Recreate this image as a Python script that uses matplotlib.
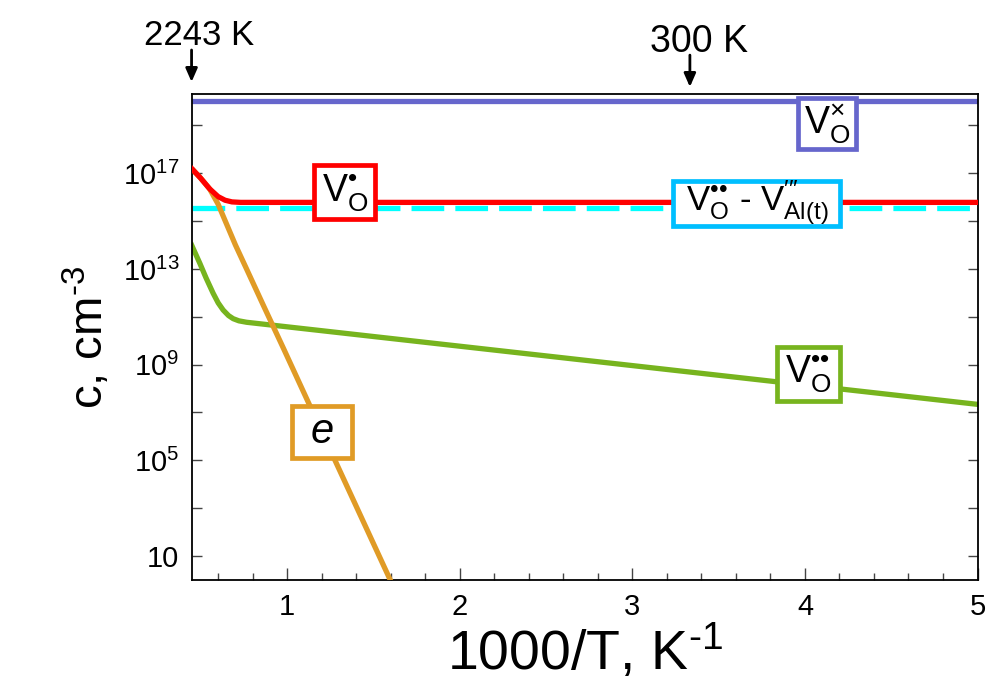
import numpy as np
import matplotlib
matplotlib.use("Agg")
import matplotlib.pyplot as plt
import matplotlib.transforms as mtransforms
from matplotlib.patches import Rectangle
from matplotlib.ticker import FixedLocator, MultipleLocator, NullFormatter

plt.rcParams['font.family'] = ['Liberation Sans', 'DejaVu Sans']
plt.rcParams['mathtext.fontset'] = 'custom'
plt.rcParams['mathtext.rm'] = 'Liberation Sans'
plt.rcParams['mathtext.it'] = 'Liberation Sans:italic'
plt.rcParams['mathtext.bf'] = 'Liberation Sans:bold'

# ---- data (x = 1000/T, values as log10 of concentration) ----
x_vox = [0.446, 5.0]
log_vox = [20.03, 20.03]

x_vo1 = [0.446, 0.50, 0.55, 0.60, 0.64, 0.68, 0.73, 0.80, 5.0]
log_vo1 = [17.2, 16.78, 16.35, 16.02, 15.87, 15.80, 15.78, 15.78, 15.78]

x_pair = [0.446, 5.0]
log_pair = [15.54, 15.54]

x_vo2 = [0.446, 0.494, 0.53, 0.571, 0.60, 0.629, 0.66, 0.687, 0.72, 0.765,
         1.0, 2.0, 3.0, 4.0, 5.0]
log_vo2 = [14.0, 13.23, 12.62, 11.98, 11.58, 11.28, 11.05, 10.92, 10.83, 10.77,
           10.58, 9.77, 8.96, 8.15, 7.34]

x_e = [0.446, 0.50, 0.55, 0.60, 0.65, 0.70, 0.765, 0.861, 0.977, 1.286, 1.61]
log_e = [17.2, 16.78, 16.35, 15.7, 14.85, 14.0, 12.99, 11.49, 9.7, 4.86, -0.2]

yticks_major = [1e1, 1e5, 1e9, 1e13, 1e17]
yticks_labels = ['10', r'$10^{5}$', r'$10^{9}$', r'$10^{13}$', r'$10^{17}$']
yticks_minor = [1e3, 1e7, 1e11, 1e15, 1e19]
xticks_major = [1, 2, 3, 4, 5]

T_high = 2243
T_low = 300

# ---- colors ----
c_blue = '#6666CC'
c_red = '#FF0000'
c_cyan = '#00FFFF'
c_cyanbox = '#00BFFF'
c_green = '#77B41E'
c_orange = '#E09B26'

fig = plt.figure(figsize=(9.9, 6.83), dpi=100)
ax = fig.add_axes([0.1935, 0.1508, 0.9874 - 0.1935, 0.8624 - 0.1508])

lw = 3.8
ax.plot(x_vox, 10.0 ** np.array(log_vox), color=c_blue, lw=lw, zorder=2)
ax.plot(x_pair, 10.0 ** np.array(log_pair), color=c_cyan, lw=lw,
        dashes=(6.2, 2.1), zorder=2.2)
ax.plot(x_vo2, 10.0 ** np.array(log_vo2), color=c_green, lw=lw, zorder=2.1)
ax.plot(x_e, 10.0 ** np.array(log_e), color=c_orange, lw=lw, zorder=2.8,
        solid_capstyle='butt')
ax.plot(x_vo1, 10.0 ** np.array(log_vo1), color=c_red, lw=lw, zorder=3)

ax.set_yscale('log')
ax.set_xlim(1000.0 / T_high, 5.0)
ax.set_ylim(1.0, 10 ** 20.31)

ax.yaxis.set_major_locator(FixedLocator(yticks_major))
ax.yaxis.set_minor_locator(FixedLocator(yticks_minor))
ax.yaxis.set_minor_formatter(NullFormatter())
ax.set_yticklabels(yticks_labels)
ax.xaxis.set_major_locator(FixedLocator(xticks_major))
ax.xaxis.set_minor_locator(MultipleLocator(0.2))
ax.xaxis.set_minor_formatter(NullFormatter())
ax.set_xticklabels([str(v) for v in xticks_major])

ax.tick_params(axis='both', which='both', direction='in', color='#444444',
               width=1.0)
ax.tick_params(axis='y', which='both', right=True, left=True, length=7,
               labelsize=21, pad=9)
ax.tick_params(axis='x', which='major', length=9, labelsize=21, pad=9,
               top=False)
ax.tick_params(axis='x', which='minor', length=5, top=False)
for s in ax.spines.values():
    s.set_linewidth(1.3)

ax.set_xlabel('1000/T, K$^{\\mathregular{\u2010}\\mathregular{1}}$', fontsize=40)
ax.xaxis.set_label_coords(0.5, -0.089)
ax.set_ylabel('c, cm$^{\\mathregular{\u2010}\\mathregular{3}}$', fontsize=34)
ax.yaxis.set_label_coords(-0.099, 0.5)


def label_box(xc, yc, w_px, h_px, text, color, fs, style='normal'):
    trans = fig.dpi_scale_trans + mtransforms.ScaledTranslation(xc, yc, ax.transData)
    w, h = w_px / 100.0, h_px / 100.0
    ax.add_patch(Rectangle((-w / 2, -h / 2), w, h, transform=trans, fc='white',
                           ec=color, lw=3.4, zorder=6, clip_on=False))
    ax.text(0, 0, text, transform=trans, fontsize=fs, ha='center', va='center',
            zorder=7, style=style)


bul = '\u2022'
label_box(4.127, 10 ** 19.06, 58, 51, r'V$_{\mathregular{O}}^{\mathregular{\times}}$',
          c_blue, 27)
label_box(1.334, 10 ** 16.2, 61, 54, 'V$_{\\mathregular{O}}^{\\mathregular{' + bul + '}}$',
          c_red, 27)
label_box(3.722, 10 ** 15.72, 167, 45,
          'V$_{\\mathregular{O}}^{\\mathregular{' + bul + bul + '}}$ - '
          'V$_{\\mathregular{Al(t)}}^{\\prime\\prime\\prime}$',
          c_cyanbox, 25)
label_box(4.022, 10 ** 8.62, 63, 54, 'V$_{\\mathregular{O}}^{\\mathregular{' + bul + bul + '}}$',
          c_green, 27)
label_box(1.204, 10 ** 6.2, 60, 52, 'e', c_orange, 30, style='italic')

# temperature markers
tr = ax.get_xaxis_transform()
arrow_kw = dict(arrowstyle='-|>,head_length=0.8,head_width=0.35', color='black',
                lw=2.0, shrinkA=0, shrinkB=0)
ax.annotate('', xy=(1000.0 / T_high, 1.0247), xytext=(1000.0 / T_high, 1.0905),
            xycoords=tr, textcoords=tr, arrowprops=arrow_kw, annotation_clip=False)
ax.text(0.488, 1.1008, f'{T_high} K', transform=tr, ha='center', va='baseline',
        fontsize=25)
ax.annotate('', xy=(1000.0 / T_low, 1.0144), xytext=(1000.0 / T_low, 1.080),
            xycoords=tr, textcoords=tr, arrowprops=arrow_kw, annotation_clip=False)
ax.text(3.385, 1.0864, f'{T_low} K', transform=tr, ha='center', va='baseline',
        fontsize=27)

fig.savefig('out.png', dpi=100)
